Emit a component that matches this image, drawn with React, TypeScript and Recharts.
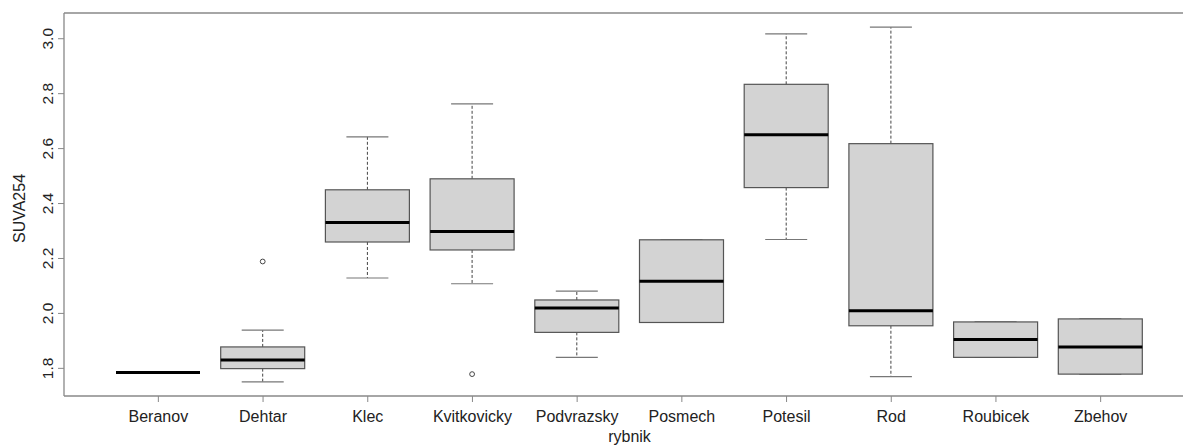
import React from 'react';
import { ComposedChart, Bar, XAxis, YAxis, ReferenceLine } from 'recharts';

const categories = ['Beranov', 'Dehtar', 'Klec', 'Kvitkovicky', 'Podvrazsky', 'Posmech', 'Potesil', 'Rod', 'Roubicek', 'Zbehov'];
const whiskerLow = [1.785, 1.751, 2.129, 2.108, 1.84, 1.967, 2.269, 1.77, 1.84, 1.779];
const q1 = [1.785, 1.799, 2.26, 2.231, 1.931, 1.967, 2.458, 1.955, 1.84, 1.779];
const median = [1.785, 1.83, 2.331, 2.298, 2.02, 2.117, 2.65, 2.01, 1.905, 1.878];
const q3 = [1.785, 1.878, 2.45, 2.49, 2.049, 2.268, 2.834, 2.618, 1.969, 1.98];
const whiskerHigh = [1.785, 1.939, 2.643, 2.763, 2.081, 2.268, 3.018, 3.042, 1.969, 1.98];
const outliers: number[][] = [[], [2.189], [], [1.779], [], [], [], [], [], []];
const yTicks = [1.8, 2.0, 2.2, 2.4, 2.6, 2.8, 3.0];

const allVals = [...whiskerLow, ...whiskerHigh, ...outliers.flat()];
const dMin = Math.min(...allVals);
const dMax = Math.max(...allVals);
const ext = (dMax - dMin) * 0.04;
const Y_LO = dMin - ext;
const Y_HI = dMax + ext;

const rows = categories.map((name, i) => ({
  name,
  lo: whiskerLow[i],
  q1: q1[i],
  med: median[i],
  q3: q3[i],
  hi: whiskerHigh[i],
  out: outliers[i],
  span: [Y_LO, Y_HI],
}));

const FONT = '"Liberation Sans", Arial, sans-serif';
const TEXT = '#222';
const FRAME = '#888';

const BoxShape = (props: any) => {
  const { x, y, width, height, payload } = props;
  const py = (v: number) => y + (height * (Y_HI - v)) / (Y_HI - Y_LO);
  const cx = x + width / 2;
  const capHalf = width / 4;
  return (
    <g>
      <line x1={cx} x2={cx} y1={py(payload.q3)} y2={py(payload.hi)} stroke="#444" strokeWidth={1} strokeDasharray="3 2" />
      <line x1={cx} x2={cx} y1={py(payload.q1)} y2={py(payload.lo)} stroke="#444" strokeWidth={1} strokeDasharray="3 2" />
      <line x1={cx - capHalf} x2={cx + capHalf} y1={py(payload.hi)} y2={py(payload.hi)} stroke="#777" strokeWidth={1.2} />
      <line x1={cx - capHalf} x2={cx + capHalf} y1={py(payload.lo)} y2={py(payload.lo)} stroke="#777" strokeWidth={1.2} />
      <rect x={x} y={py(payload.q3)} width={width} height={Math.max(0, py(payload.q1) - py(payload.q3))} fill="#d3d3d3" stroke="#555" strokeWidth={1.2} />
      <line x1={x} x2={x + width} y1={py(payload.med)} y2={py(payload.med)} stroke="#000" strokeWidth={3} />
      {payload.out.map((v: number, k: number) => (
        <circle key={k} cx={cx} cy={py(v)} r={2.4} fill="none" stroke="#444" strokeWidth={1} />
      ))}
    </g>
  );
};

const XTick = (props: any) => {
  const { x, y, payload } = props;
  return (
    <text x={x} y={y + 17.5} textAnchor="middle" fontFamily={FONT} fontSize={16} fill={TEXT}>
      {payload.value}
    </text>
  );
};

const YTick = (props: any) => {
  const { x, y, payload } = props;
  const bx = x - 2.5;
  return (
    <text x={bx} y={y} textAnchor="middle" fontFamily={FONT} fontSize={15.5} fill={TEXT} transform={`rotate(-90, ${bx}, ${y})`}>
      {payload.value.toFixed(1)}
    </text>
  );
};

export default function App() {
  return (
    <div style={{ position: 'fixed', left: 0, top: 0, width: 1183, height: 446, overflow: 'hidden', background: '#fff' }}>
      <ComposedChart width={1215} height={446} data={rows} margin={{ top: 13, right: 20, left: 0, bottom: 0 }}>
        <XAxis
          dataKey="name"
          type="category"
          padding={{ left: 42, right: 42 }}
          height={50}
          tickSize={6}
          tickLine={{ stroke: FRAME }}
          axisLine={{ stroke: FRAME, strokeWidth: 1.3 }}
          tick={<XTick />}
          interval={0}
          label={{
            content: (p: any) => {
              const vb = p.viewBox || {};
              return (
                <text x={vb.x + vb.width / 2} y={vb.y + vb.height - 4.5} textAnchor="middle" fontFamily={FONT} fontSize={16} fill={TEXT}>
                  rybnik
                </text>
              );
            },
          }}
        />
        <YAxis
          type="number"
          domain={[Y_LO, Y_HI]}
          allowDataOverflow
          ticks={yTicks}
          width={64}
          tickSize={6}
          tickLine={{ stroke: FRAME }}
          axisLine={{ stroke: FRAME, strokeWidth: 1.3 }}
          tick={<YTick />}
          label={{
            content: (p: any) => {
              const vb = p.viewBox || {};
              const lx = 24.5;
              const ly = vb.y + vb.height / 2 + 4;
              return (
                <text x={lx} y={ly} textAnchor="middle" fontFamily={FONT} fontSize={16} fill={TEXT} transform={`rotate(-90, ${lx}, ${ly})`}>
                  SUVA254
                </text>
              );
            },
          }}
        />
        <ReferenceLine y={Y_HI} stroke={FRAME} strokeWidth={1.3} />
        <Bar dataKey="span" barSize={84} shape={<BoxShape />} isAnimationActive={false} />
      </ComposedChart>
    </div>
  );
}
